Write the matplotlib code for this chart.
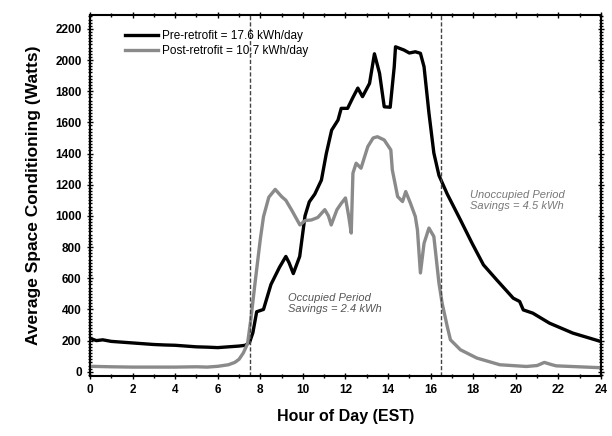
import matplotlib.pyplot as plt
from matplotlib.ticker import MultipleLocator

# Pre-retrofit profile (hour, watts)
pre_hours = [0.0, 0.3, 0.6, 1.0, 1.5, 2.0, 2.5, 3.0, 3.5, 4.0, 4.5, 5.0, 5.5, 6.0,
             6.5, 7.0, 7.3, 7.5, 7.65, 7.83, 8.15, 8.5, 8.9, 9.2, 9.35, 9.55, 9.85,
             10.1, 10.3, 10.56, 10.87, 11.1, 11.35, 11.65, 11.8, 12.1, 12.35, 12.58,
             12.8, 13.13, 13.36, 13.6, 13.82, 14.1, 14.29, 14.35, 14.75, 15.0, 15.28,
             15.52, 15.69, 15.92, 16.15, 16.39, 16.78, 17.4, 17.94, 18.48, 19.1,
             19.88, 20.18, 20.35, 20.8, 21.58, 22.68, 24.0]
pre_watts = [215, 200, 205, 195, 190, 185, 180, 175, 172, 170, 165, 160, 158, 155,
             160, 165, 170, 190, 250, 385, 400, 560, 670, 740, 700, 630, 740,
             1000, 1090, 1140, 1230, 1400, 1550, 1615, 1690, 1690, 1760, 1820,
             1765, 1850, 2040, 1915, 1700, 1697, 1957, 2085, 2064, 2045, 2053,
             2043, 1957, 1660, 1404, 1260, 1140, 974, 826, 686, 590,
             472, 451, 397, 376, 312, 248, 194]

# Post-retrofit profile (hour, watts)
post_hours = [0.0, 1.0, 2.0, 3.0, 4.0, 5.0, 5.5, 6.0, 6.5, 6.8, 7.0, 7.2, 7.4, 7.55,
              7.77, 8.0, 8.15, 8.4, 8.7, 9.0, 9.2, 9.47, 9.86, 10.1, 10.4, 10.7,
              11.03, 11.2, 11.33, 11.6, 11.8, 12.0, 12.15, 12.27, 12.35, 12.5, 12.73,
              13.05, 13.3, 13.5, 13.82, 14.13, 14.2, 14.45, 14.68, 14.83, 15.05,
              15.28, 15.38, 15.52, 15.69, 15.92, 16.15, 16.39, 16.54, 16.78, 16.93,
              17.4, 18.17, 19.25, 20.5, 21.0, 21.34, 21.7, 21.9, 24.0]
post_watts = [35, 32, 30, 30, 30, 32, 30, 35, 45, 60, 80, 120, 180, 330,
              590, 850, 995, 1120, 1170, 1124, 1100, 1038, 942, 970, 974, 990,
              1040, 1000, 942, 1040, 1080, 1115, 1000, 890, 1274, 1338, 1306,
              1445, 1500, 1508, 1487, 1423, 1295, 1124, 1092, 1156, 1082,
              996, 910, 634, 824, 922, 868, 569, 440, 290, 205,
              141, 88, 45, 34, 40, 60, 45, 38, 26]

occupied_start = 7.5
occupied_end = 16.5

plt.rcParams['font.family'] = ['Liberation Sans', 'DejaVu Sans']

fig = plt.figure(figsize=(6.12, 4.36), dpi=100)
ax = fig.add_axes([0.147, 0.138, 0.835, 0.828])

ax.plot(pre_hours, pre_watts, color='black', lw=2.4,
        label='Pre-retrofit = 17.6 kWh/day')
ax.plot(post_hours, post_watts, color='#8a8a8a', lw=2.4,
        label='Post-retrofit = 10.7 kWh/day')

for xv in (occupied_start, occupied_end):
    ax.axvline(xv, color='#444444', lw=1.0, ls=(0, (3, 1.5)))

ax.text(9.3, 440, 'Occupied Period\nSavings = 2.4 kWh', fontsize=8,
        style='italic', color='#555555', va='center', linespacing=1.1)
ax.text(17.85, 1100, 'Unoccupied Period\nSavings = 4.5 kWh', fontsize=8,
        style='italic', color='#777777', va='center', linespacing=1.1)

ax.set_xlim(0, 24)
ax.set_ylim(-26, 2290)
ax.xaxis.set_major_locator(MultipleLocator(2))
ax.xaxis.set_minor_locator(MultipleLocator(1))
ax.yaxis.set_major_locator(MultipleLocator(200))
ax.yaxis.set_minor_locator(MultipleLocator(20))
ax.tick_params(which='both', direction='inout', top=True, right=True,
               labelsize=8.5, width=1)
ax.tick_params(which='major', length=5)
ax.tick_params(which='minor', length=3)
for lab in ax.get_xticklabels() + ax.get_yticklabels():
    lab.set_fontweight('bold')
for sp in ax.spines.values():
    sp.set_linewidth(1.5)

ax.set_xlabel('Hour of Day (EST)', fontsize=11.5, fontweight='bold', labelpad=9)
ax.set_ylabel('Average Space Conditioning (Watts)', fontsize=12.5,
              fontweight='bold', labelpad=10)

ax.legend(loc='upper left', bbox_to_anchor=(0.06, 0.97), frameon=False,
          fontsize=8.5, handlelength=2.8, handletextpad=0.3, borderaxespad=0,
          labelspacing=0.2)

fig.savefig('out.png', dpi=100)
